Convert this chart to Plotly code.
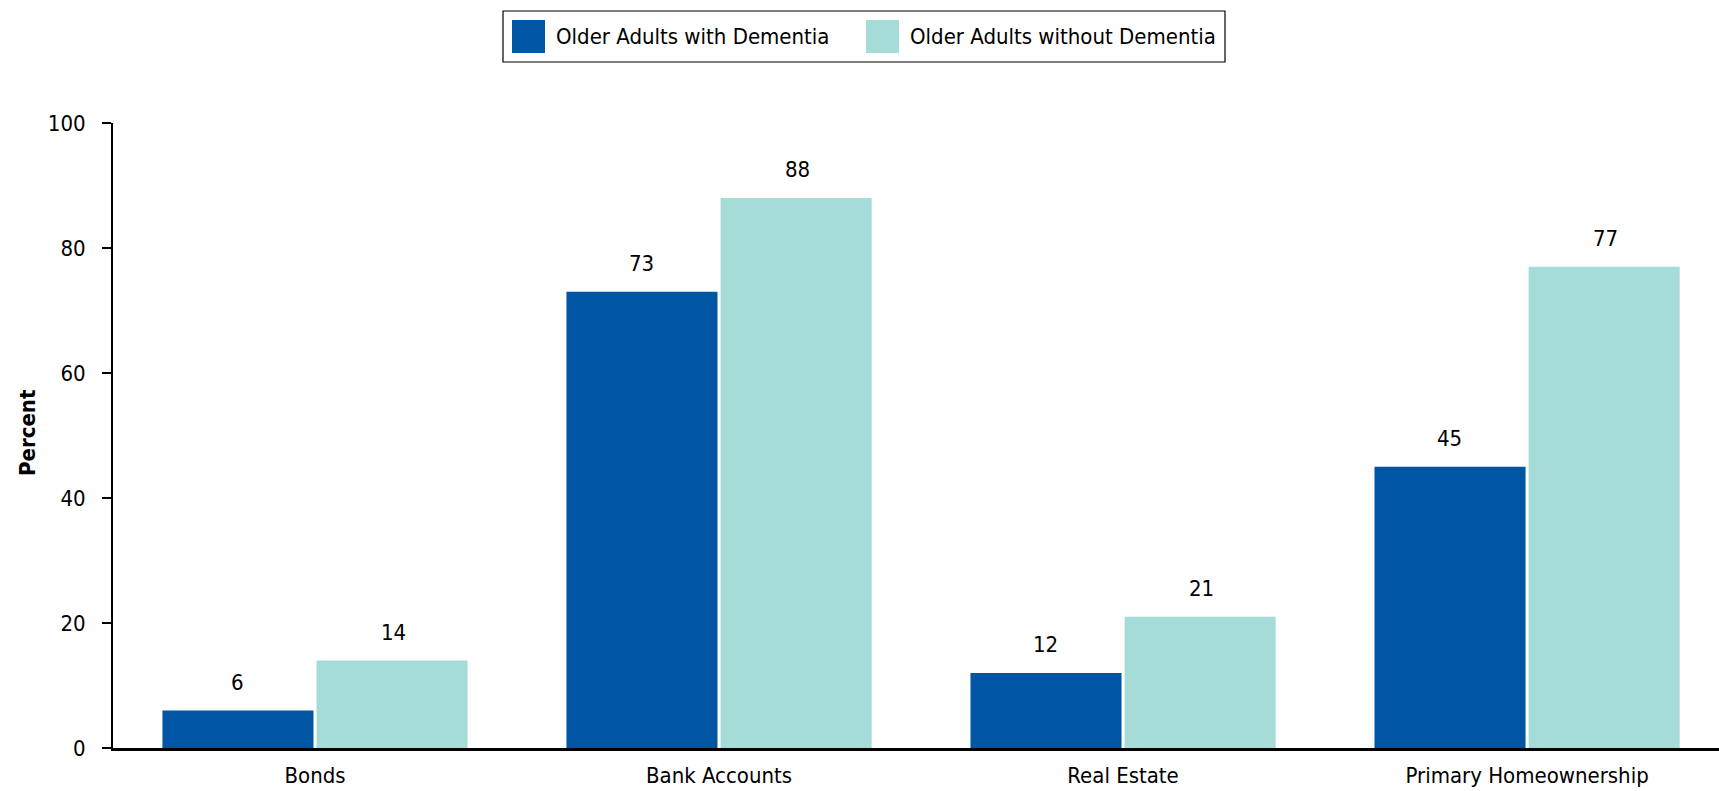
import plotly.graph_objects as go

# Share of older adults holding each asset type (percent)
categories = ["Bonds", "Bank Accounts", "Real Estate", "Primary Homeownership"]
with_dementia = [6, 73, 12, 45]
without_dementia = [14, 88, 21, 77]
series_names = ["Older Adults with Dementia", "Older Adults without Dementia"]
y_ticks = [0, 20, 40, 60, 80, 100]

DARK = "#0055a4"
LIGHT = "#a6dcd8"
FONT = "DejaVu Sans Condensed, DejaVu Sans, sans-serif"

W, H = 1719, 791
ML, MR, MT, MB = 113, 0, 123, 43
PW, PH = W - ML - MR, H - MT - MB

fig = go.Figure()
for name, vals, col in [(series_names[0], with_dementia, DARK),
                        (series_names[1], without_dementia, LIGHT)]:
    fig.add_trace(go.Bar(
        x=list(range(len(categories))), y=vals, name=name,
        marker=dict(color=col, line=dict(width=0)),
        showlegend=False,
    ))

# value labels above each bar
half_slot = 78
for i in range(len(categories)):
    for vals, sh in [(with_dementia, -half_slot), (without_dementia, half_slot)]:
        fig.add_annotation(
            x=i, y=vals[i], xref="x", yref="y", text=str(vals[i]),
            showarrow=False, xshift=sh, yanchor="bottom", yshift=14,
            font=dict(family=FONT, size=22, color="black"),
        )

# boxed legend drawn in paper space
def px_x(p):
    return (p - ML) / PW

def px_y(p):
    return (H - MB - p) / PH

fig.add_shape(type="rect", xref="paper", yref="paper",
              x0=px_x(503), x1=px_x(1225), y0=px_y(62), y1=px_y(11),
              line=dict(color="black", width=1.2), fillcolor="white")
for (sx, tx), name, col in [((512, 554), series_names[0], DARK),
                             ((866, 908), series_names[1], LIGHT)]:
    fig.add_shape(type="rect", xref="paper", yref="paper",
                  x0=px_x(sx), x1=px_x(sx + 33), y0=px_y(53), y1=px_y(20),
                  line=dict(width=0), fillcolor=col)
    fig.add_annotation(x=px_x(tx), y=px_y(36.5), xref="paper", yref="paper",
                       text=name, showarrow=False, xanchor="left", yanchor="middle",
                       font=dict(family=FONT, size=22, color="black"))

# rotated y-axis title
fig.add_annotation(x=px_x(27), y=px_y(433), xref="paper", yref="paper",
                   text="<b>Percent</b>", textangle=-90, showarrow=False,
                   xanchor="center", yanchor="middle",
                   font=dict(family=FONT, size=22, color="black"))

fig.update_layout(
    width=W, height=H,
    margin=dict(l=ML, r=MR, t=MT, b=MB, autoexpand=False),
    paper_bgcolor="white", plot_bgcolor="white",
    barmode="group", bargap=0.237, bargroupgap=0.02,
    font=dict(family=FONT, size=22, color="black"),
    showlegend=False,
)
fig.update_xaxes(
    range=[-0.5, 3.475], tickmode="array",
    tickvals=list(range(len(categories))), ticktext=categories,
    showline=True, linecolor="black", linewidth=2.5, ticks="",
    showgrid=False, zeroline=False, ticklabelstandoff=6,
    tickfont=dict(family=FONT, size=22, color="black"),
)
fig.update_yaxes(
    range=[0, 100], tickvals=y_ticks,
    showline=True, linecolor="black", linewidth=2, ticks="outside",
    ticklen=9, tickwidth=2, tickcolor="black",
    showgrid=False, zeroline=False, ticklabelstandoff=12,
    tickfont=dict(family=FONT, size=22, color="black"),
)

fig.write_html("out.html")
